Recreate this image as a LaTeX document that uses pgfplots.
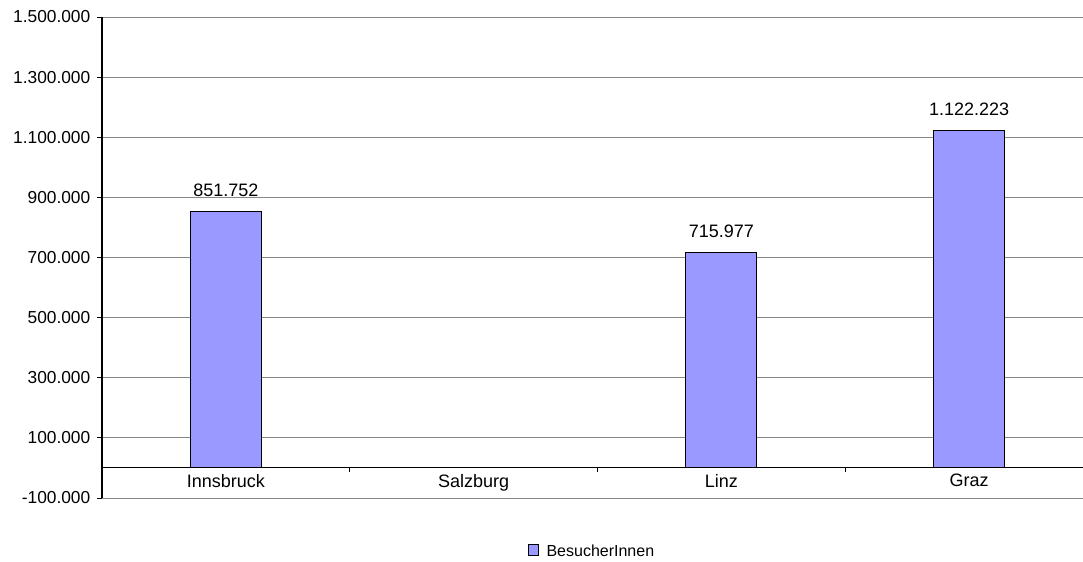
\documentclass[border=0pt]{standalone}
\usepackage{fontspec}
\setmainfont{Liberation Sans}
\usepackage{pgfplots}
\pgfplotsset{compat=1.18}
\definecolor{barblue}{HTML}{9999FF}
\definecolor{gridgray}{HTML}{868686}
\begin{document}
\begin{tikzpicture}
\begin{axis}[
  name=ax,
  scale only axis,
  width=735.75pt, height=360.75pt,
  xmin=-0.5, xmax=3.46,
  ymin=-100000, ymax=1500000,
  axis y line*=left,
  axis x line*=middle,
  axis line style={-, black, line width=0.8pt},
  ytick={-100000,100000,...,1500000},
  scaled y ticks=false,
  ymajorgrids,
  grid style={gridgray, line width=0.7pt},
  /pgf/number format/.cd, fixed, 1000 sep={.}, assume math mode=true,
  /pgfplots/.cd,
  ytick style={black, line width=0.6pt},
  ytick align=outside,
  major tick length=3.75pt,
  xtick={0,1,2,3},
  xticklabels={Innsbruck,Salzburg,Linz,Graz},
  x tick style={draw=none},
  minor xtick={0.5,1.5,2.5},
  minor x tick style={draw=black, line width=0.6pt},
  xtick align=outside,
  minor tick length=3pt,
  x tick label style={font=\fontsize{13.5}{15}\selectfont, yshift=2.5pt},
  y tick label style={font=\fontsize{13}{15}\selectfont, xshift=-1.5pt},
  ybar,
  bar width=53.25pt,
  nodes near coords,
  nodes near coords style={font=\fontsize{13.5}{15}\selectfont, yshift=7.5pt},
  legend style={at={(0.5,0)}, anchor=north, yshift=-31pt, draw=none, fill=none,
                font=\fontsize{12}{14}\selectfont},
  legend image code/.code={%
    \draw[#1] (0pt,-2.5pt) rectangle (7.5pt,5.5pt);
    \path (11pt,0pt);},
]
\addplot[fill=barblue, draw=black, line width=0.8pt]
  coordinates {(0,851752) (2,715977) (3,1122223)};
\legend{BesucherInnen}
\end{axis}
\pgfresetboundingbox
\path[use as bounding box] ([xshift=-76.5pt,yshift=-48pt]ax.south west)
  rectangle ([yshift=12.75pt]ax.north east);
\end{tikzpicture}
\end{document}
